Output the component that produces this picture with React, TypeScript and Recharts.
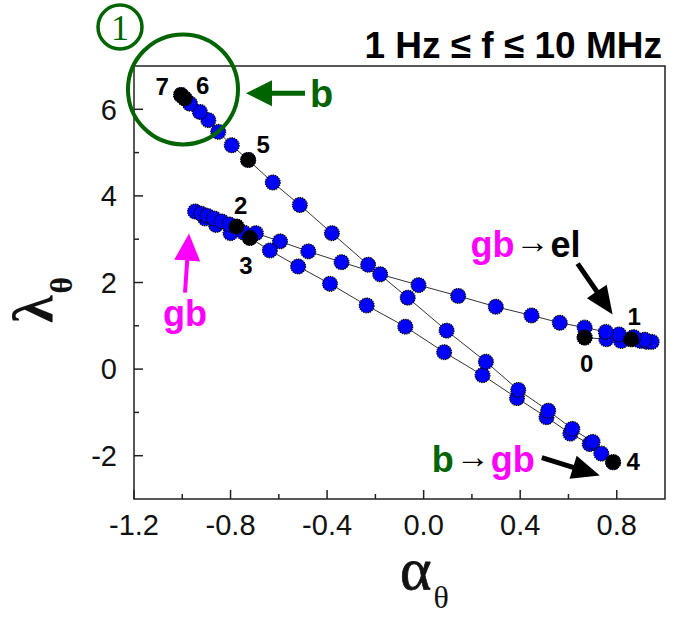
import React from "react";
import {
  ScatterChart,
  Scatter,
  XAxis,
  YAxis,
  ReferenceArea,
  ReferenceDot,
} from "recharts";

// frequency sweep 1 Hz .. 10 MHz, in path order
const pathAlpha = [
  0.667, 0.757, 0.818, 0.86, 0.898, 0.925, 0.945, 0.915, 0.87, 0.809, 0.755,
  0.667, 0.564, 0.447, 0.299, 0.143, -0.021, -0.18, -0.34, -0.478, -0.595,
  -0.695, -0.8, -0.86, -0.905, -0.947, -0.922, -0.896, -0.869, -0.837, -0.805,
  -0.775, -0.745, -0.72, -0.637, -0.52, -0.388, -0.236, -0.076, 0.085, 0.244,
  0.387, 0.509, 0.608, 0.688, 0.736, 0.785, 0.7, 0.616, 0.516, 0.392, 0.258,
  0.095, -0.066, -0.23, -0.38, -0.513, -0.625, -0.727, -0.795, -0.851, -0.892,
  -0.927, -0.968, -0.99, -1.005,
];
const pathLambda = [
  0.73, 0.69, 0.65, 0.69, 0.65, 0.63, 0.63, 0.68, 0.74, 0.8, 0.86, 0.96, 1.07,
  1.24, 1.44, 1.69, 1.94, 2.19, 2.47, 2.72, 2.95, 3.14, 3.14, 3.33, 3.48, 3.64,
  3.59, 3.54, 3.48, 3.41, 3.34, 3.29, 3.15, 3.03, 2.74, 2.37, 1.97, 1.47, 0.98,
  0.39, -0.14, -0.67, -1.11, -1.49, -1.73, -1.95, -2.15, -1.68, -1.38, -0.96,
  -0.48, 0.17, 0.89, 1.65, 2.41, 3.14, 3.79, 4.31, 4.83, 5.17, 5.48, 5.75, 5.94,
  6.13, 6.25, 6.33,
];
// decade markers (log10 f) as indices into the path
const decadeIndex = [0, 3, 31, 33, 46, 58, 64, 65];
const decadeLabels = ["0", "1", "2", "3", "4", "5", "6", "7"];

const xTicks = [-1.2, -1.0, -0.8, -0.6, -0.4, -0.2, 0, 0.2, 0.4, 0.6, 0.8];
const yTicks = [-2, -1, 0, 1, 2, 3, 4, 5, 6];

const path = pathAlpha.map((a, i) => ({ a, l: pathLambda[i] }));
const decades = decadeIndex.map((k, i) => ({
  a: pathAlpha[k],
  l: pathLambda[k],
  label: decadeLabels[i],
}));

// label placement next to the black points (px)
const labelOffset: Record<string, [number, number]> = {
  "0": [2, 26],
  "1": [3, -23],
  "2": [4, -21],
  "3": [-4, 28],
  "4": [20, -1],
  "5": [15, -15],
  "6": [18, -13],
  "7": [-19, -9],
};

const SANS = "'Liberation Sans', Arial, sans-serif";
const SERIF = "'Liberation Serif', 'Times New Roman', serif";
const GREEN = "#006400";
const MAGENTA = "#ff00ff";
const AXIS = "#222";
const DOT_R = 7.4;

function arrowPoints(
  x1: number,
  y1: number,
  x2: number,
  y2: number,
  head: number,
  half: number,
  shaft: number
) {
  const dx = x2 - x1;
  const dy = y2 - y1;
  const len = Math.hypot(dx, dy);
  const ux = dx / len;
  const uy = dy / len;
  const nx = -uy;
  const ny = ux;
  const bx = x2 - ux * head;
  const by = y2 - uy * head;
  const s = shaft / 2;
  const pts = [
    [x1 + nx * s, y1 + ny * s],
    [bx + nx * s, by + ny * s],
    [bx + nx * half, by + ny * half],
    [x2, y2],
    [bx - nx * half, by - ny * half],
    [bx - nx * s, by - ny * s],
    [x1 - nx * s, y1 - ny * s],
  ];
  return pts.map((p) => p.join(",")).join(" ");
}

const BlueDot = (props: any) => (
  <circle
    cx={props.cx}
    cy={props.cy}
    r={DOT_R}
    fill="#0000ff"
    stroke="#000"
    strokeWidth={1.2}
    strokeDasharray="1.4 0.9"
  />
);

const BlackDot = (props: any) => {
  const off = labelOffset[props.payload.label] || [0, 0];
  return (
    <g>
      <circle
        cx={props.cx}
        cy={props.cy}
        r={DOT_R}
        fill="#000"
        stroke="#000"
        strokeWidth={1.2}
        strokeDasharray="1.4 0.9"
      />
      <text
        x={props.cx + off[0]}
        y={props.cy + off[1]}
        textAnchor="middle"
        dominantBaseline="central"
        fontFamily={SANS}
        fontWeight="bold"
        fontSize={24}
        fill="#000"
      >
        {props.payload.label}
      </text>
    </g>
  );
};

const XTick = (props: any) => {
  const { x, y, index, payload } = props;
  const major = index % 2 === 0;
  const axisY = y - 15;
  return (
    <g>
      <line
        x1={x}
        x2={x}
        y1={axisY}
        y2={axisY - (major ? 9 : 5)}
        stroke={AXIS}
        strokeWidth={1.5}
      />
      {major && (
        <text
          x={x}
          y={y}
          dy="0.71em"
          textAnchor="middle"
          fontFamily={SANS}
          fontSize={29}
          fill="#111"
        >
          {payload.value.toFixed(1)}
        </text>
      )}
    </g>
  );
};

const YTick = (props: any) => {
  const { x, y, payload } = props;
  const major = payload.value % 2 === 0;
  const axisX = x + 17;
  return (
    <g>
      <line
        x1={axisX}
        x2={axisX + (major ? 9 : 5)}
        y1={y}
        y2={y}
        stroke={AXIS}
        strokeWidth={1.5}
      />
      {major && (
        <text
          x={x}
          y={y}
          dy="0.355em"
          textAnchor="end"
          fontFamily={SANS}
          fontSize={29}
          fill="#111"
        >
          {payload.value}
        </text>
      )}
    </g>
  );
};

const XLabel = () => (
  <text x={400} y={589} fontFamily={SERIF} fill="#111">
    <tspan fontSize={60} stroke="#111" strokeWidth={0.8}>
      α
    </tspan>
    <tspan fontSize={32} dy={19} dx={2}>
      θ
    </tspan>
  </text>
);

const YLabel = () => (
  <text
    x={0}
    y={0}
    transform="translate(52, 300) rotate(-90)"
    fontFamily={SERIF}
    fontWeight="bold"
    fill="#111"
    textAnchor="middle"
  >
    <tspan fontSize={56}>λ</tspan>
    <tspan fontSize={32} dy={20} dx={2}>
      θ
    </tspan>
  </text>
);

export default function App() {
  return (
    <div
      style={{
        position: "absolute",
        left: 0,
        top: 0,
        width: 674,
        height: 620,
        background: "#fff",
      }}
    >
      <ScatterChart
        width={674}
        height={620}
        margin={{ top: 66, right: 9, bottom: 81, left: 74 }}
      >
        <XAxis
          type="number"
          dataKey="a"
          domain={[-1.2, 1.0]}
          ticks={xTicks}
          interval={0}
          allowDataOverflow
          axisLine={false}
          tickLine={false}
          tickSize={0}
          tickMargin={15}
          height={40}
          tick={<XTick />}
          label={<XLabel />}
        />
        <YAxis
          type="number"
          dataKey="l"
          domain={[-3, 7]}
          ticks={yTicks}
          interval={0}
          allowDataOverflow
          axisLine={false}
          tickLine={false}
          tickSize={0}
          tickMargin={17}
          width={60}
          tick={<YTick />}
          label={<YLabel />}
        />
        <ReferenceArea
          x1={-1.2}
          x2={1.0}
          y1={-3}
          y2={7}
          fill="none"
          fillOpacity={0}
          stroke={AXIS}
          strokeWidth={1.5}
        />
        <Scatter
          data={path}
          line={{ stroke: "#333", strokeWidth: 1 }}
          shape={<BlueDot />}
          isAnimationActive={false}
        />
        <Scatter
          data={decades}
          shape={<BlackDot />}
          isAnimationActive={false}
        />

        {/* region b */}
        <ReferenceDot
          x={-0.997}
          y={6.46}
          ifOverflow="visible"
          shape={(p: any) => (
            <circle
              cx={p.cx}
              cy={p.cy}
              r={55}
              fill="none"
              stroke={GREEN}
              strokeWidth={4}
            />
          )}
        />
        <ReferenceDot
          x={-0.736}
          y={6.37}
          ifOverflow="visible"
          shape={(p: any) => (
            <g>
              <polygon
                points={arrowPoints(p.cx + 59, p.cy, p.cx, p.cy, 26, 13, 5)}
                fill={GREEN}
              />
              <text
                x={p.cx + 64}
                y={p.cy + 14}
                fontFamily={SANS}
                fontWeight="bold"
                fontSize={38}
                fill={GREEN}
              >
                b
              </text>
            </g>
          )}
        />
        <ReferenceDot
          x={-0.972}
          y={3.13}
          ifOverflow="visible"
          shape={(p: any) => (
            <g>
              <polygon
                points={arrowPoints(p.cx - 4, p.cy + 59, p.cx, p.cy, 27, 13, 4)}
                fill={MAGENTA}
              />
              <text
                x={p.cx - 4}
                y={p.cy + 92}
                textAnchor="middle"
                fontFamily={SANS}
                fontWeight="bold"
                fontSize={36}
                fill={MAGENTA}
              >
                gb
              </text>
            </g>
          )}
        />
        <ReferenceDot
          x={0.783}
          y={1.26}
          ifOverflow="visible"
          shape={(p: any) => (
            <g>
              <polygon
                points={arrowPoints(p.cx - 35, p.cy - 51, p.cx, p.cy, 28, 12, 5)}
                fill="#000"
              />
              <text
                x={p.cx - 142}
                y={p.cy - 58}
                fontFamily={SANS}
                fontWeight="bold"
                fontSize={36}
              >
                <tspan fill={MAGENTA}>gb</tspan>
                <tspan fill="#000" fontSize={34} fontWeight="normal" dy={-4} dx={1}>
                  →
                </tspan>
                <tspan fill="#000" dy={4} dx={1}>
                  el
                </tspan>
              </text>
            </g>
          )}
        />
        <ReferenceDot
          x={0.73}
          y={-2.46}
          ifOverflow="visible"
          shape={(p: any) => (
            <g>
              <polygon
                points={arrowPoints(p.cx - 58, p.cy - 18, p.cx, p.cy, 28, 12, 5)}
                fill="#000"
              />
              <text
                x={p.cx - 168}
                y={p.cy - 4}
                fontFamily={SANS}
                fontWeight="bold"
                fontSize={36}
              >
                <tspan fill={GREEN}>b</tspan>
                <tspan fill="#000" fontSize={34} fontWeight="normal" dy={-4} dx={2}>
                  →
                </tspan>
                <tspan fill={MAGENTA} dy={4} dx={1}>
                  gb
                </tspan>
              </text>
            </g>
          )}
        />
      </ScatterChart>

      <svg
        width={674}
        height={620}
        style={{ position: "absolute", left: 0, top: 0, pointerEvents: "none" }}
      >
        <circle cx={120} cy={27} r={22} fill="none" stroke={GREEN} strokeWidth={3.5} />
        <text
          x={120}
          y={40}
          textAnchor="middle"
          fontFamily={SERIF}
          fontSize={36}
          fill={GREEN}
        >
          1
        </text>
        <text
          x={662}
          y={58}
          textAnchor="end"
          fontFamily={SANS}
          fontWeight="bold"
          fontSize={37}
          fill="#000"
        >
          1 Hz ≤ f ≤ 10 MHz
        </text>
      </svg>
    </div>
  );
}
